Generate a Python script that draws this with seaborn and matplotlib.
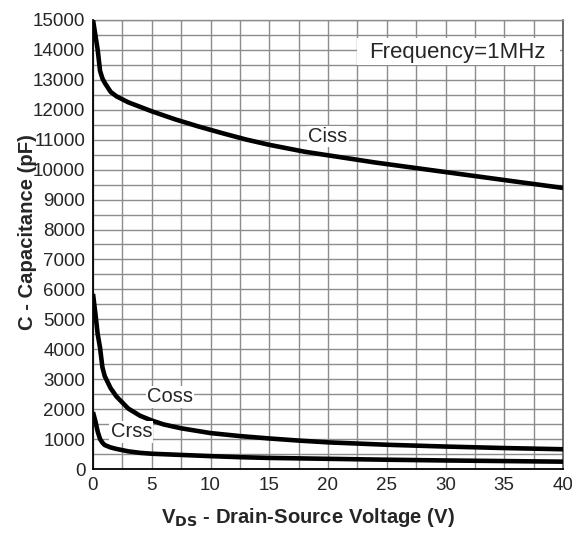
import matplotlib
matplotlib.use("Agg")
import matplotlib.pyplot as plt
from matplotlib.patches import Rectangle
from matplotlib.ticker import MultipleLocator
import numpy as np
import pandas as pd
import seaborn as sns

# Capacitance vs drain-source voltage (f = 1 MHz)
ciss_v = [0, 0.2, 0.4, 0.6, 0.8, 1, 1.5, 2, 3, 4, 5, 7, 9, 11, 13, 15, 18, 21, 24, 27, 30, 33, 36, 40]
ciss_pf = [15000, 14500, 14000, 13300, 13050, 12900, 12600, 12450, 12250, 12100, 11950, 11680,
           11440, 11220, 11010, 10830, 10600, 10420, 10240, 10080, 9920, 9760, 9600, 9390]

coss_v = [0, 0.2, 0.4, 0.6, 0.8, 1, 1.5, 2, 3, 4, 5, 6, 7.5, 10, 12.5, 15, 17.5, 20, 25, 30, 35, 40]
coss_pf = [5850, 5200, 4500, 4050, 3400, 3100, 2700, 2420, 2020, 1780, 1620, 1490, 1360, 1200,
           1100, 1020, 950, 890, 810, 750, 700, 660]

crss_v = [0, 0.2, 0.4, 0.6, 0.8, 1, 1.5, 2, 3, 4, 5, 7.5, 10, 12.5, 15, 20, 25, 30, 35, 40]
crss_pf = [1900, 1600, 1250, 1000, 880, 800, 720, 670, 590, 540, 510, 470, 430, 395, 370,
           340, 310, 285, 265, 245]

series_names = ["Ciss", "Coss", "Crss"]
x_ticks = [0, 5, 10, 15, 20, 25, 30, 35, 40]
y_ticks = list(range(0, 15001, 1000))

frames = []
for name, v, c in zip(series_names, [ciss_v, coss_v, crss_v], [ciss_pf, coss_pf, crss_pf]):
    frames.append(pd.DataFrame({"V": v, "C": c, "series": name}))
df = pd.concat(frames, ignore_index=True)

sns.set_style("white")
plt.rcParams["font.family"] = ["Liberation Sans", "DejaVu Sans"]

fig = plt.figure(figsize=(5.72, 5.33), dpi=100)
ax = fig.add_axes([93 / 572, 64 / 533, 470 / 572, 449 / 533])

grid_col = "#8c8c8c"
ax.xaxis.set_major_locator(MultipleLocator(5))
ax.xaxis.set_minor_locator(MultipleLocator(2.5))
ax.yaxis.set_major_locator(MultipleLocator(1000))
ax.yaxis.set_minor_locator(MultipleLocator(500))
ax.grid(True, which="both", color=grid_col, linewidth=1.0)
ax.set_axisbelow(True)

sns.lineplot(data=df, x="V", y="C", units="series", estimator=None, color="black",
             linewidth=3.3, ax=ax, sort=False, legend=False)
for line in ax.get_lines():
    line.set_solid_joinstyle("round")
    line.set_solid_capstyle("butt")
    line.set_zorder(3)

ax.set_xlim(0, 40)
ax.set_ylim(0, 15000)
ax.set_xticks(x_ticks)
ax.set_yticks(y_ticks)
ax.set_xticklabels([str(t) for t in x_ticks], fontsize=13.5)
ax.set_yticklabels([str(t) for t in y_ticks], fontsize=13.5)
ax.tick_params(which="both", length=0)
ax.tick_params(axis="x", pad=6)
ax.tick_params(axis="y", pad=5.5)

for side in ["left", "bottom"]:
    ax.spines[side].set_color("black")
    ax.spines[side].set_linewidth(1.3)
ax.spines["top"].set_color(grid_col)
ax.spines["top"].set_linewidth(1.0)
ax.spines["right"].set_color("#555555")
ax.spines["right"].set_linewidth(1.2)

# curve labels on small white boxes
box = dict(facecolor="white", edgecolor="none", pad=1.0)
ax.text(20.0, 11110, "Ciss", fontsize=14.5, ha="center", va="center", bbox=box, zorder=4)
ax.text(6.55, 2410, "Coss", fontsize=14.5, ha="center", va="center", bbox=box, zorder=4)
ax.text(3.26, 1240, "Crss", fontsize=14.5, ha="center", va="center", bbox=box, zorder=4)

# test-condition note
ax.add_patch(Rectangle((0.562, 0.8998), 0.4316, 0.0594, transform=ax.transAxes,
                       facecolor="white", edgecolor="none", zorder=2))
ax.text(0.776, 0.928, "Frequency=1MHz", fontsize=16, ha="center", va="center",
        transform=ax.transAxes, zorder=4)

ax.set_xlabel(r"V$_{\mathbf{DS}}$ - Drain-Source Voltage (V)", fontsize=14.6,
              fontweight="bold")
ax.xaxis.label.set_va("baseline")
ax.xaxis.set_label_coords(0.457, -0.1203)

ax.set_ylabel("C - Capacitance (pF)", fontsize=14.6, fontweight="bold")
ax.yaxis.set_label_coords(-0.119, 0.528)

fig.savefig("out.png", dpi=100)
